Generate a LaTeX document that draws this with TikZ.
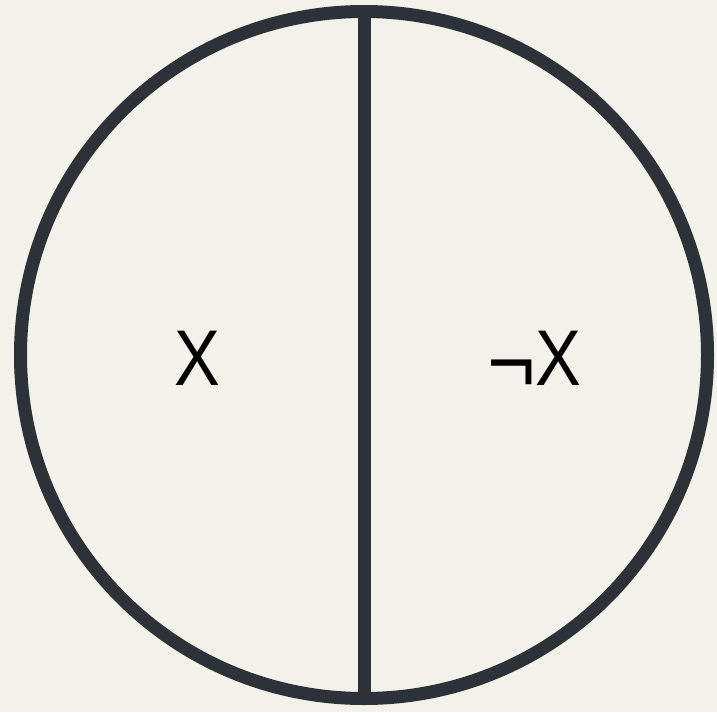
\documentclass[tikz,border=0pt]{standalone}
\usepackage{fontspec}
\setmainfont{Liberation Sans}
\definecolor{bgc}{HTML}{F2F1EA}
\definecolor{inkc}{HTML}{2D3238}
\begin{document}
\begin{tikzpicture}[x=1pt,y=-1pt,
  outline/.style={draw=inkc,line width=13pt},
  lbl/.style={inner sep=0pt,font=\fontsize{79}{79}\selectfont,text=black}]
\fill[bgc] (0,0) rectangle (717,712);
\useasboundingbox (0,0) rectangle (717,712);
\coordinate (c) at (364,355);
\coordinate (top) at (364.5,8);
\coordinate (bot) at (364.5,702);
\draw[outline] (c) circle[radius=343.5];
\draw[outline] (top) -- (bot);
\node[lbl,anchor=base] (x) at (197.5,385.5) {\scalebox{0.87}[1]{X}};
\node[lbl,anchor=base east] (nx) at (582,385.5) {\raisebox{-7pt}{\scalebox{1.05}[1.12]{¬}}\scalebox{0.87}[1]{X}};
\end{tikzpicture}
\end{document}
